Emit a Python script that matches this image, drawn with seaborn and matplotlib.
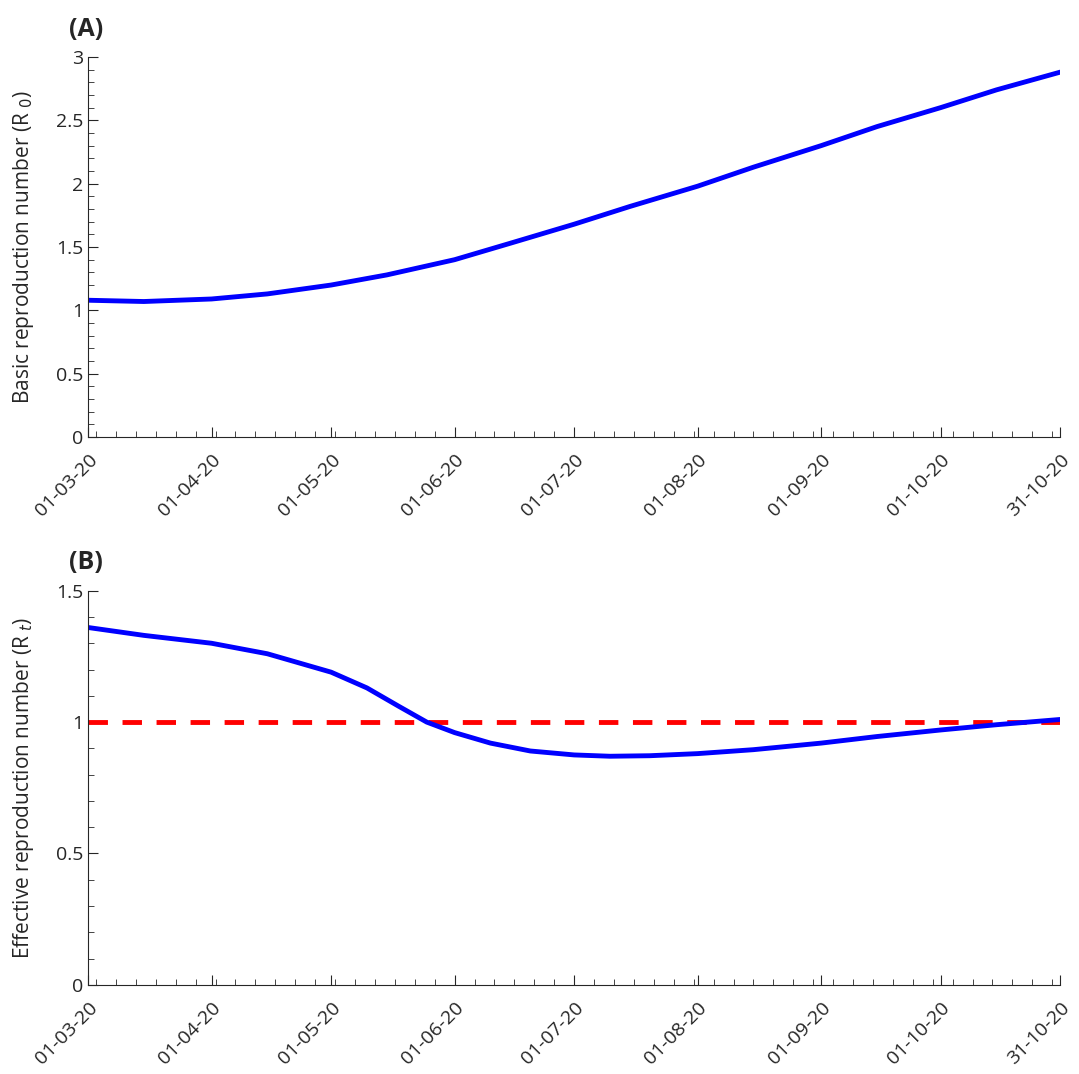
import numpy as np
import pandas as pd
import seaborn as sns
import matplotlib.pyplot as plt
import matplotlib.dates as mdates
from matplotlib.ticker import MultipleLocator, FormatStrFormatter

# values
r0_dates = ["2020-03-01", "2020-03-15", "2020-04-01", "2020-04-15", "2020-05-01", "2020-05-15",
            "2020-06-01", "2020-06-15", "2020-07-01", "2020-07-15", "2020-08-01", "2020-08-15",
            "2020-09-01", "2020-09-15", "2020-10-01", "2020-10-15", "2020-10-31"]
r0_values = [1.08, 1.07, 1.09, 1.13, 1.20, 1.28, 1.40, 1.53, 1.68, 1.82, 1.98, 2.13,
             2.30, 2.45, 2.60, 2.74, 2.88]

rt_dates = ["2020-03-01", "2020-03-15", "2020-04-01", "2020-04-15", "2020-05-01", "2020-05-10",
            "2020-05-18", "2020-05-25", "2020-06-01", "2020-06-10", "2020-06-20", "2020-07-01",
            "2020-07-10", "2020-07-20", "2020-08-01", "2020-08-15", "2020-09-01", "2020-09-15",
            "2020-10-01", "2020-10-15", "2020-10-31"]
rt_values = [1.36, 1.33, 1.30, 1.26, 1.19, 1.13, 1.06, 1.00, 0.96, 0.92, 0.89, 0.875,
             0.87, 0.872, 0.88, 0.895, 0.92, 0.945, 0.97, 0.99, 1.01]

tick_dates = ["2020-03-01", "2020-04-01", "2020-05-01", "2020-06-01", "2020-07-01",
              "2020-08-01", "2020-09-01", "2020-10-01", "2020-10-31"]
tick_labels = ["01-03-20", "01-04-20", "01-05-20", "01-06-20", "01-07-20",
               "01-08-20", "01-09-20", "01-10-20", "31-10-20"]

sns.set_style("ticks")
plt.rcParams["font.family"] = ["Open Sans", "DejaVu Sans"]

df0 = pd.DataFrame({"date": pd.to_datetime(r0_dates), "value": r0_values})
dft = pd.DataFrame({"date": pd.to_datetime(rt_dates), "value": rt_values})
ticks = pd.to_datetime(tick_dates)

fig = plt.figure(figsize=(10.79, 10.74), dpi=100)
ax1 = fig.add_axes([0.0816, 0.593, 0.901, 0.354])
ax2 = fig.add_axes([0.0816, 0.083, 0.901, 0.367])


def style_axis(ax, ymax, ylabel, letter):
    ax.set_xlim(ticks[0], ticks[-1])
    ax.set_ylim(0, ymax)
    ax.set_xticks(ticks)
    ax.set_xticklabels(tick_labels, rotation=45, ha="right", rotation_mode="anchor")
    ax.xaxis.set_minor_locator(mdates.DayLocator(interval=5))
    ax.yaxis.set_major_locator(MultipleLocator(0.5))
    ax.yaxis.set_minor_locator(MultipleLocator(0.1))
    ax.yaxis.set_major_formatter(FormatStrFormatter("%g"))
    ax.tick_params(which="both", direction="in", labelsize=14, colors="#262626")
    ax.tick_params(axis="x", pad=10)
    ax.tick_params(which="major", length=7)
    ax.tick_params(which="minor", length=4)
    ax.set_xlabel("")
    ax.set_ylabel(ylabel, fontsize=15, color="#262626", labelpad=14)
    sns.despine(ax=ax)
    for s in ["left", "bottom"]:
        ax.spines[s].set_color("#262626")
    ax.text(-0.02, 1.04, letter, transform=ax.transAxes, fontsize=18,
            fontweight="bold", ha="left", va="bottom")


sns.lineplot(data=df0, x="date", y="value", ax=ax1, color="#0000ff", linewidth=3.5)
style_axis(ax1, 3, r"Basic reproduction number (R$_{\ 0}$)", "(A)")

ax2.plot([ticks[0], ticks[-1]], [1, 1], color="#ff0000", linestyle=(0, (4, 3)), linewidth=3.5)
sns.lineplot(data=dft, x="date", y="value", ax=ax2, color="#0000ff", linewidth=3.5)
style_axis(ax2, 1.5, r"Effective reproduction number (R$_{\ t}$)", "(B)")

fig.savefig("out.png", dpi=100)
